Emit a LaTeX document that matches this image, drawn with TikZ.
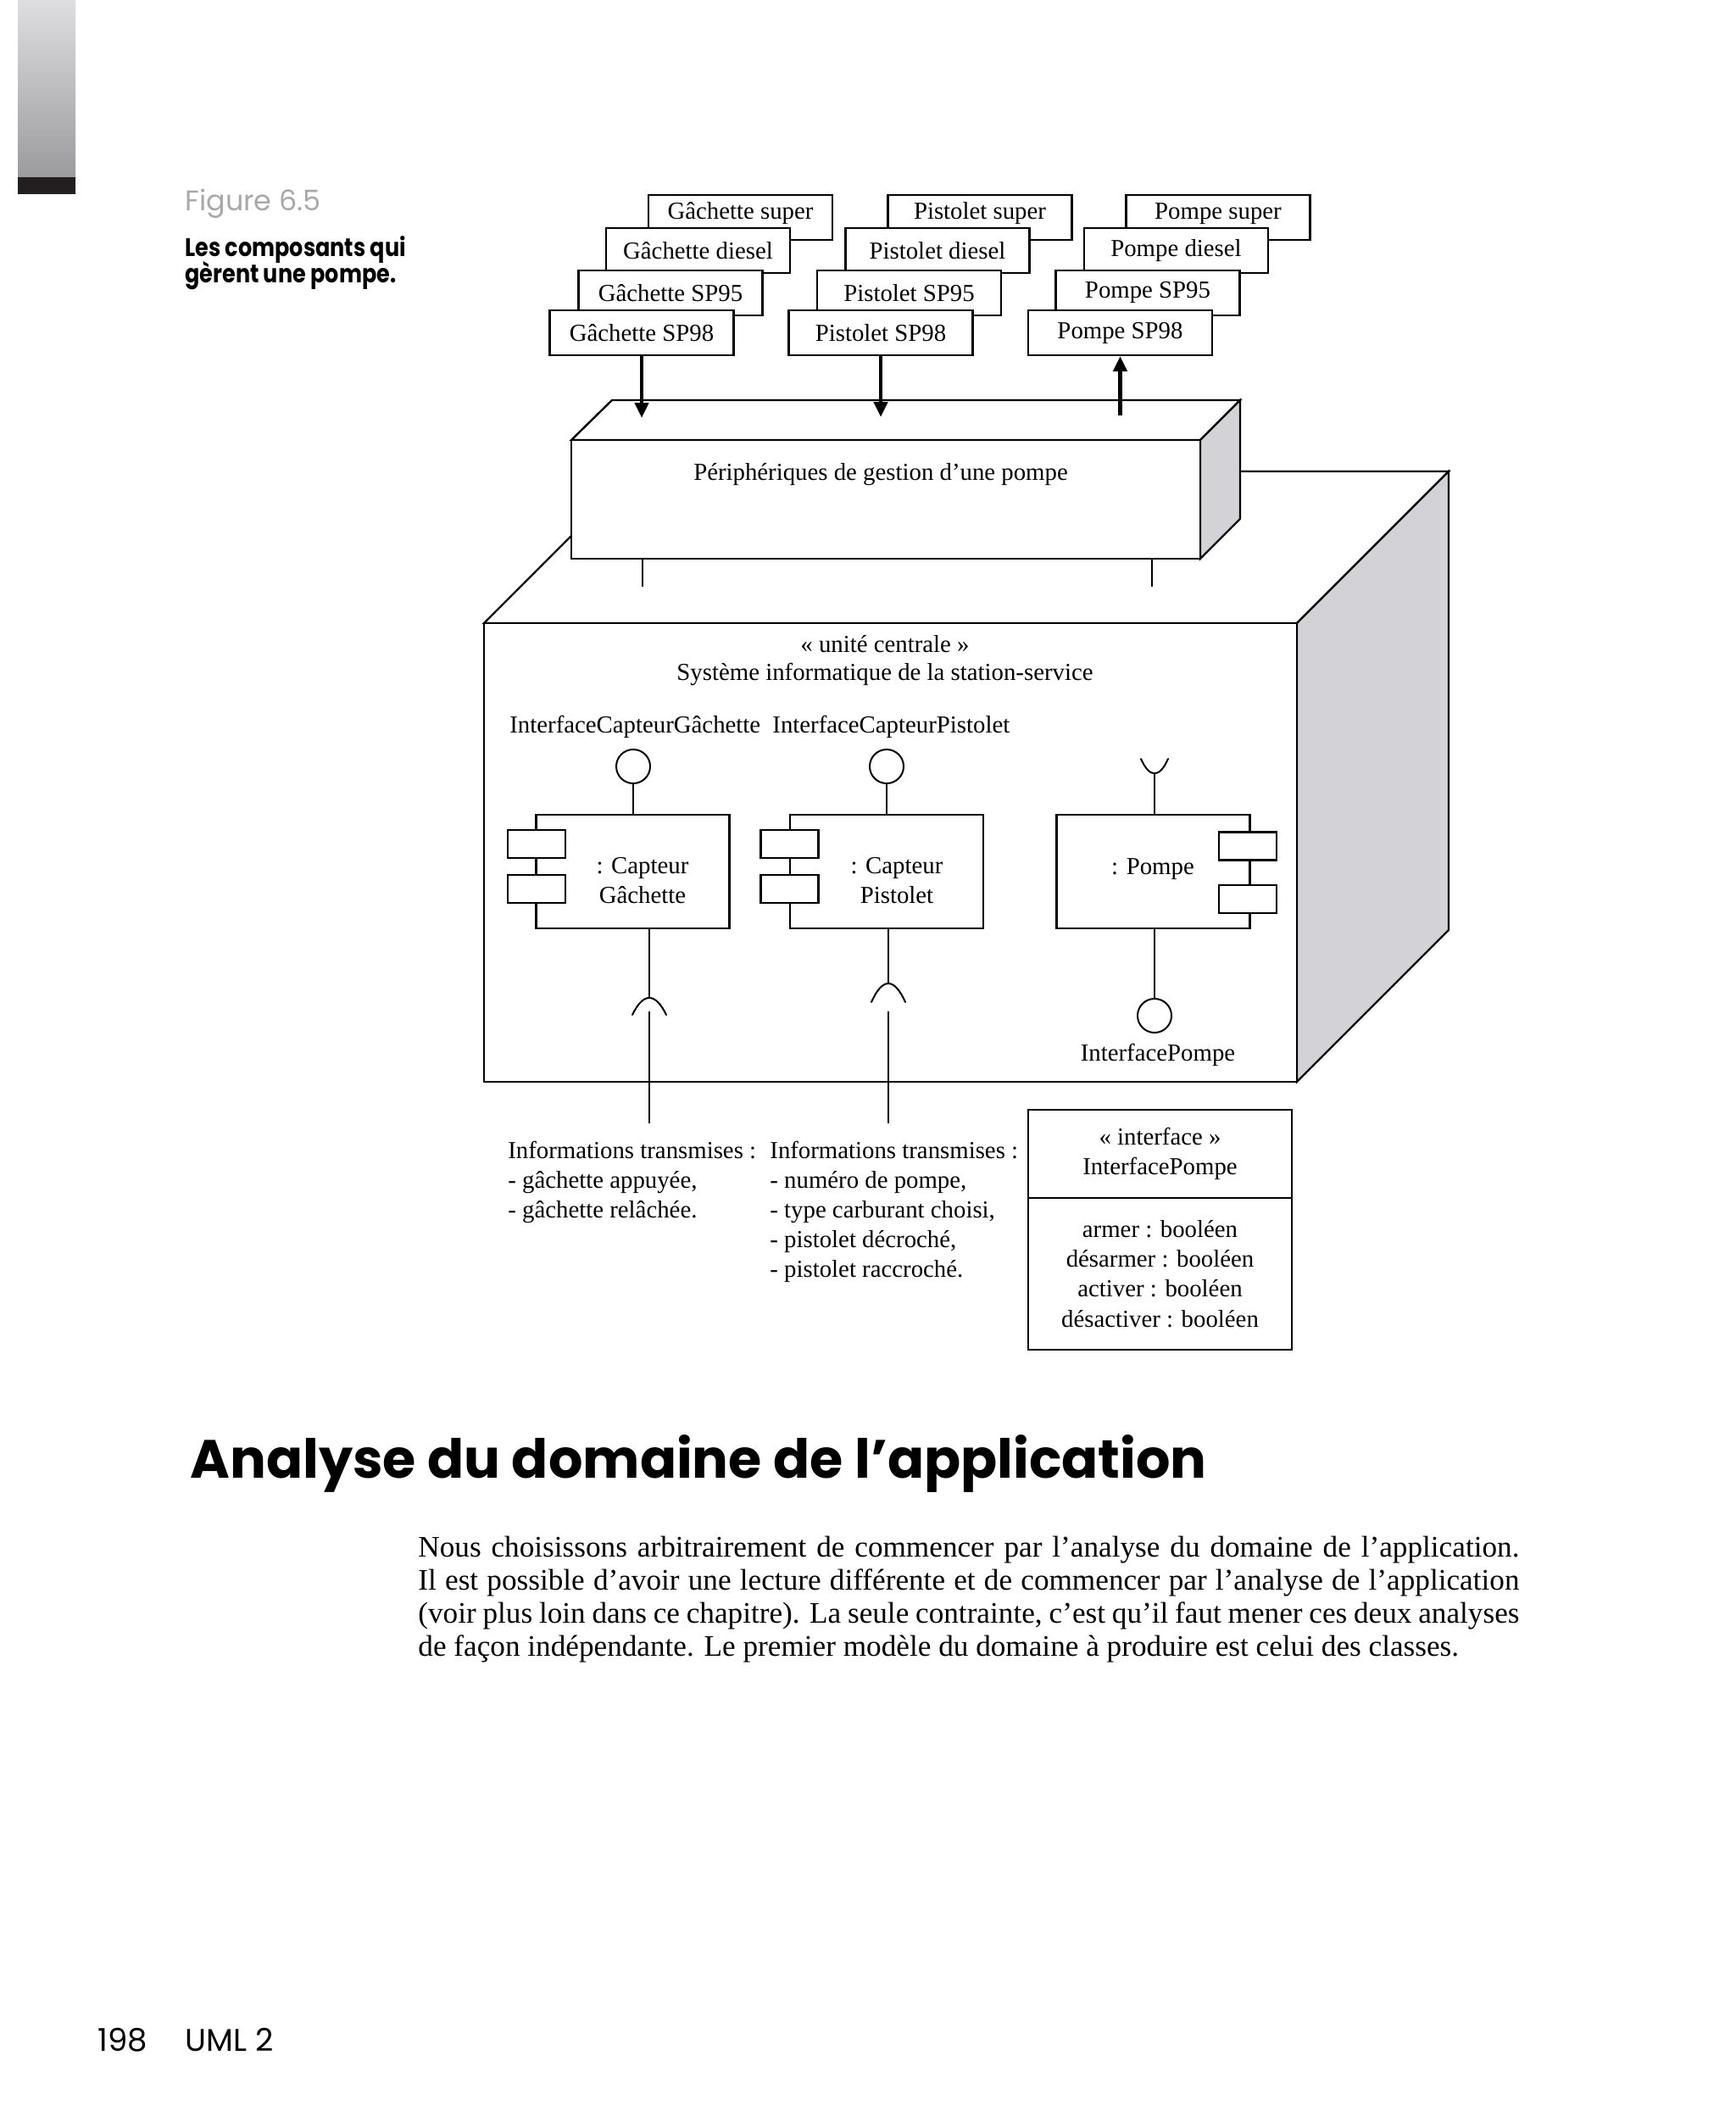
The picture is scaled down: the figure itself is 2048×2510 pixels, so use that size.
\documentclass[tikz,border=0pt]{standalone}
\usepackage{fontspec}
\setmainfont{Liberation Serif}
\newfontfamily\popfont{Poppins}
\newfontfamily\popcond[FakeStretch=0.85]{Poppins}
\newfontfamily\bodyfont{Liberation Serif}
\usetikzlibrary{arrows.meta}
\definecolor{sidegray}{RGB}{211,211,215}
\definecolor{figgray}{RGB}{168,168,171}
\definecolor{barTop}{RGB}{222,222,224}
\definecolor{barBot}{RGB}{155,155,158}
\definecolor{barBlack}{RGB}{35,31,32}
\newcommand\dfont{\fontsize{14.4pt}{17.6pt}\selectfont}
\newcommand\bfnt{\fontsize{17.6pt}{19.5pt}\selectfont\bodyfont}
\newcommand\uptext[1]{\raisebox{-1.25pt}[0pt][0pt]{#1}}
\begin{document}
\begin{tikzpicture}[x=0.5pt,y=-0.5pt,
  dbox/.style={draw, fill=white, line width=1.1pt, minimum width=108.5pt, minimum height=26.5pt, inner sep=0pt, font=\dfont},
  face/.style={draw=black, line width=1.2pt, line join=miter},
  dtext/.style={inner sep=0pt, font=\dfont},
  conn/.style={line width=1pt},
  stub/.style={line width=0.8pt},
  bigarrow/.style={line width=2.3pt, -{Triangle[length=9pt,width=8pt]}},
  comp/.style={draw, fill=white, line width=1.2pt, inner sep=0pt, minimum width=114pt, minimum height=67pt},
  port/.style={draw, fill=white, line width=1.2pt, inner sep=0pt, minimum width=34pt, minimum height=16.5pt},
  ball/.style={draw, circle, line width=1pt, inner sep=0pt, minimum size=20pt},
  cls/.style={draw, line width=1.2pt, inner sep=0pt, outer sep=0pt, minimum width=155.5pt, align=center, font=\dfont},
  pagetext/.style={inner sep=0pt, anchor=base west}
  ]
\useasboundingbox (0,0) rectangle (2048,2510);
\fill[white] (0,0) rectangle (2048,2510);

% side bar
\shade[top color=barTop, bottom color=barBot] (21,0) rectangle (89,209);
\fill[barBlack] (21,209) rectangle (89,229);

% caption
\node[pagetext, font=\popfont\fontsize{16.7pt}{20pt}\selectfont, text=figgray] (figno) at (218,248) {Figure 6.5};
\node[pagetext, font=\popcond\bfseries\fontsize{15pt}{15.5pt}\selectfont] (cap1) at (218,302) {Les composants qui};
\node[pagetext, font=\popcond\bfseries\fontsize{15pt}{15.5pt}\selectfont] (cap2) at (218,333) {gèrent une pompe.};

% ---- big node (unité centrale) ----
\coordinate (BA) at (571,735);
\coordinate (BB) at (1530,735);
\coordinate (BC) at (1530,1276);
\coordinate (BD) at (571,1276);
\coordinate (BE) at (750,556);
\coordinate (BF) at (1709,556);
\coordinate (BG) at (1709,1097);
\filldraw[face, fill=white] (BA) -- (BE) -- (BF) -- (BB) -- cycle;
\filldraw[face, fill=sidegray] (BB) -- (BF) -- (BG) -- (BC) -- cycle;
\filldraw[face, fill=white] (BA) rectangle (BC);

% stubs under peripherals
\coordinate (st1a) at (758,659);
\coordinate (st1b) at (758,692);
\coordinate (st2a) at (1359,659);
\coordinate (st2b) at (1359,692);
\draw[stub] (st1a) -- (st1b);
\draw[stub] (st2a) -- (st2b);

% ---- peripherals node ----
\coordinate (PA) at (674,519);
\coordinate (PB) at (1416,519);
\coordinate (PC) at (1416,659);
\coordinate (PD) at (674,659);
\coordinate (PE) at (722,472);
\coordinate (PF) at (1463,472);
\coordinate (PG) at (1463,612);
\filldraw[face, fill=white] (PA) -- (PE) -- (PF) -- (PB) -- cycle;
\filldraw[face, fill=sidegray] (PB) -- (PF) -- (PG) -- (PC) -- cycle;
\filldraw[face, fill=white] (PA) rectangle (PC);
\node[dtext, anchor=base] (ptxt) at (1039,566) {Périphériques de gestion d’une pompe};

% ---- stacked boxes ----
\node[dbox] (gsup) at (873.5,256.5) {\uptext{Gâchette super}};
\node[dbox] (gdie) at (823.5,295.5) {Gâchette diesel};
\node[dbox] (g95) at (791,345.5) {Gâchette SP95};
\node[dbox] (g98) at (757,392.5) {Gâchette SP98};

\node[dbox] (psup) at (1156,256.5) {\uptext{Pistolet super}};
\node[dbox] (pdie) at (1106,295.5) {Pistolet diesel};
\node[dbox] (p95) at (1072.5,345.5) {Pistolet SP95};
\node[dbox] (p98) at (1039,392.5) {Pistolet SP98};

\node[dbox] (msup) at (1437,256.5) {\uptext{Pompe super}};
\node[dbox] (mdie) at (1387.5,295.5) {Pompe diesel};
\node[dbox] (m95) at (1354,345.5) {Pompe SP95};
\node[dbox] (m98) at (1321.5,392.5) {Pompe SP98};

% arrows
\coordinate (ga) at (757,493);
\coordinate (pa) at (1039,492);
\coordinate (ma) at (1321.5,490);
\draw[bigarrow] (g98.south) -- (ga);
\draw[bigarrow] (p98.south) -- (pa);
\draw[bigarrow] (ma) -- (m98.south);

% ---- inside central unit ----
\node[dtext, anchor=base] (st) at (1044,769) {« unité centrale »};
\node[dtext, anchor=base] (sys) at (1044,802) {Système informatique de la station-service};
\node[dtext, anchor=base west] (icg) at (601,864) {InterfaceCapteurGâchette};
\node[dtext, anchor=base west] (icp) at (911,864) {InterfaceCapteurPistolet};

% components
\node[comp] (c1) at (746.5,1028) {};
\node[comp] (c2) at (1046,1028) {};
\node[comp] (c3) at (1360.5,1028) {};
\node[port] (c1p1) at (633,995.5) {};
\node[port] (c1p2) at (633,1048.5) {};
\node[port] (c2p1) at (931.5,995.5) {};
\node[port] (c2p2) at (931.5,1048.5) {};
\node[port] (c3p1) at (1472,998) {};
\node[port] (c3p2) at (1472,1060.5) {};
\node[dtext, anchor=north, align=center] (c1t) at (758,1005) {\strut: Capteur\\Gâchette};
\node[dtext, anchor=north, align=center] (c2t) at (1058,1005) {\strut: Capteur\\Pistolet};
\node[dtext, anchor=base] (c3t) at (1360,1031) {: Pompe};

% provided interfaces (balls)
\node[ball] (b1) at (747,904) {};
\node[ball] (b2) at (1046,904) {};
\node[ball] (b3) at (1362,1198) {};
\draw[conn] (b1.south) -- (b1.south |- c1.north);
\draw[conn] (b2.south) -- (b2.south |- c2.north);
\draw[conn] (b3.north |- c3.south) -- (b3.north);
\node[dtext, anchor=base] (ip) at (1366,1251) {InterfacePompe};

% required interface on Pompe (socket)
\coordinate (s3) at (1362,912);
\draw[conn] (s3 |- c3.north) -- (s3);
\draw[conn, line cap=round] (1346,895) .. controls (1356,918) and (1368,918) .. (1378,895);

% sockets below sensors
\coordinate (s1) at (766,1177);
\coordinate (s2) at (1048,1160);
\draw[conn] (s1 |- c1.south) -- (s1);
\draw[conn] (s2 |- c2.south) -- (s2);
\draw[conn, line cap=round] (746,1197) .. controls (759,1170.3) and (773,1170.3) .. (786,1197);
\draw[conn, line cap=round] (1028,1182) .. controls (1041,1152.7) and (1055,1152.7) .. (1068,1182);
\coordinate (l1t) at (766,1193);
\coordinate (l1b) at (766,1325);
\coordinate (l2t) at (1048,1193);
\coordinate (l2b) at (1048,1325);
\draw[conn] (l1t) -- (l1b);
\draw[conn] (l2t) -- (l2b);

% info texts
\node[dtext, anchor=north west, align=left] (inf1) at (599,1341) {\strut Informations transmises :\\- gâchette appuyée,\\- gâchette relâchée.};
\node[dtext, anchor=north west, align=left] (inf2) at (908,1341) {\strut Informations transmises :\\- numéro de pompe,\\- type carburant choisi,\\- pistolet décroché,\\- pistolet raccroché.};

% interface class
\node[cls, minimum height=52pt, anchor=north west] (ihead) at (1213,1309) {« interface »\\InterfacePompe};
\node[cls, minimum height=89.5pt, anchor=north] (ibody) at (ihead.south) {armer : booléen\\désarmer : booléen\\activer : booléen\\désactiver : booléen};

% ---- page text ----
\node[pagetext, font=\popfont\bfseries\fontsize{31.8pt}{36pt}\selectfont] (head) at (224,1743) {Analyse du domaine de l’application};
\node[pagetext, font=\bfnt] (bl1) at (493,1836) {\makebox[649.5pt][s]{Nous choisissons arbitrairement de commencer par l’analyse du domaine de l’application.}};
\node[pagetext, font=\bfnt] (bl2) at (493,1875) {\makebox[649.5pt][s]{Il est possible d’avoir une lecture différente et de commencer par l’analyse de l’application}};
\node[pagetext, font=\bfnt] (bl3) at (493,1914) {\makebox[649.5pt][s]{(voir plus loin dans ce chapitre). La seule contrainte, c’est qu’il faut mener ces deux analyses}};
\node[pagetext, font=\bfnt] (bl4) at (493,1953) {de façon indépendante. Le premier modèle du domaine à produire est celui des classes.};

\node[pagetext, font=\popfont\fontsize{18.5pt}{20pt}\selectfont] (pgno) at (115,2419) {198};
\node[pagetext, font=\popfont\fontsize{18.5pt}{20pt}\selectfont] (book) at (218,2419) {UML 2};
\end{tikzpicture}
\end{document}
